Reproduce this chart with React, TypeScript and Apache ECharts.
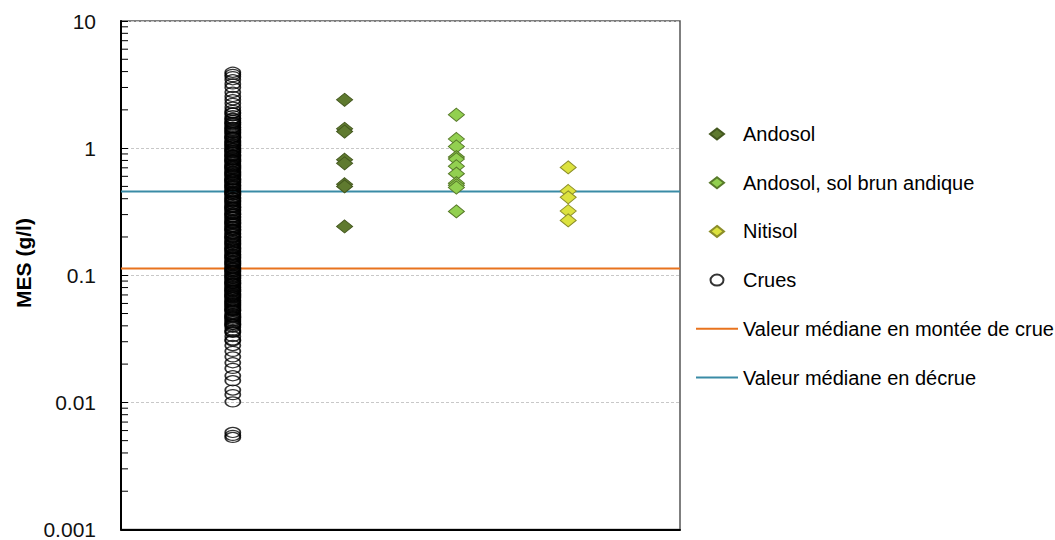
import React, { useEffect, useRef } from "react";
import * as echarts from "echarts";

const FONT = "'Liberation Sans', Arial, sans-serif";

// Category positions on the hidden x axis
const crueX = 1;
const andosolX = 2;
const solBrunX = 3;
const nitisolX = 4;

// MES values (g/l)
const andosol = [2.4, 1.42, 1.35, 0.81, 0.76, 0.52, 0.5, 0.242];
const solBrunAndique = [1.83, 1.18, 1.03, 0.85, 0.82, 0.72, 0.63, 0.53, 0.51, 0.49, 0.318];
const nitisol = [0.705, 0.46, 0.41, 0.32, 0.27];
const crues = [
  3.95, 3.8, 3.65, 3.45, 3.2, 3.0, 2.75, 2.55, 2.4, 2.25, 2.1, 1.98, 1.88, 1.8, 1.72,
  1.65, 1.58, 1.52, 1.46, 1.41, 1.36, 1.31, 1.27, 1.23, 1.19, 1.15, 1.11, 1.07, 1.04,
  1.01, 0.98, 0.95, 0.92, 0.89, 0.86, 0.84, 0.81, 0.79, 0.76, 0.74, 0.72, 0.7, 0.68,
  0.66, 0.64, 0.62, 0.6, 0.58, 0.565, 0.55, 0.535, 0.52, 0.505, 0.49, 0.475, 0.46,
  0.45, 0.44, 0.425, 0.41, 0.4, 0.39, 0.375, 0.36, 0.35, 0.34, 0.33, 0.32, 0.31, 0.3,
  0.29, 0.282, 0.274, 0.266, 0.258, 0.25, 0.243, 0.236, 0.229, 0.222, 0.215, 0.208,
  0.202, 0.196, 0.19, 0.184, 0.178, 0.172, 0.167, 0.162, 0.157, 0.152, 0.147, 0.143,
  0.139, 0.135, 0.131, 0.127, 0.123, 0.119, 0.115, 0.112, 0.109, 0.106, 0.103, 0.1,
  0.097, 0.094, 0.091, 0.088, 0.086, 0.083, 0.081, 0.078, 0.076, 0.074, 0.072, 0.07,
  0.068, 0.066, 0.064, 0.062, 0.06, 0.058, 0.057, 0.055, 0.053, 0.052, 0.05, 0.048,
  0.047, 0.045, 0.044, 0.042, 0.041, 0.039, 0.037, 0.0355, 0.033, 0.0305, 0.028,
  0.0252, 0.0228, 0.0205, 0.0185, 0.0162, 0.0148, 0.0125, 0.0115, 0.0101,
  0.0058, 0.0055, 0.0053,
  1.9, 1.7, 1.55, 1.45, 1.33, 1.22, 1.13, 1.05, 0.99, 0.93, 0.87, 0.82, 0.78, 0.73,
  0.69, 0.65, 0.61, 0.57, 0.54, 0.51, 0.48, 0.455, 0.43, 0.405, 0.385, 0.365, 0.345,
  0.325, 0.305, 0.287, 0.27, 0.255, 0.24, 0.226, 0.212, 0.199, 0.187, 0.175, 0.164,
  0.154, 0.145, 0.137, 0.129, 0.121, 0.114, 0.107, 0.101, 0.095, 0.09, 0.085, 0.08,
  0.075, 0.071, 0.067, 0.063, 0.059, 0.056, 0.053, 0.049, 0.046, 0.043, 0.04,
  1.6, 1.39, 1.21, 1.09, 0.96, 0.88, 0.8, 0.71, 0.63, 0.56, 0.5, 0.44, 0.38, 0.34,
  0.3, 0.26, 0.23, 0.2, 0.18, 0.16, 0.14, 0.125, 0.11, 0.098, 0.087, 0.077, 0.069,
  0.061, 0.054, 0.047, 0.041, 0.036, 0.031,
];

// Median lines
const medianMontee = 0.113;
const medianDecrue = 0.455;

// Axis
const yMin = 0.001;
const yMax = 10;
const xMin = 0;
const xMax = 5;
const decades = [0.001, 0.01, 0.1, 1];
const minorMultipliers = [2, 3, 4, 5, 6, 7, 8, 9];

const colors = {
  andosol: "#5F7A2F",
  andosolBorder: "#44581F",
  solBrun: "#92D050",
  solBrunBorder: "#587A2A",
  nitisol: "#DCE23E",
  nitisolBorder: "#8C8E2A",
  montee: "#E8731E",
  decrue: "#3A8BA6",
};

// Legend icons: 42x12 box, marker centred at x=21
const ICON_DIAMOND = "path://M0,6L0,6M42,6L42,6M21,0.5L28,6L21,11.5L14,6Z";
const ICON_CIRCLE =
  "path://M0,6L0,6M42,6L42,6M14.5,6A6.5,5.5,0,1,0,27.5,6A6.5,5.5,0,1,0,14.5,6Z";

export default function App() {
  const ref = useRef<HTMLDivElement>(null);

  useEffect(() => {
    if (!ref.current) return;
    const chart = echarts.init(ref.current, undefined, { renderer: "svg" });

    const minorTicks: number[][] = [];
    decades.forEach((d) => minorMultipliers.forEach((m) => minorTicks.push([xMin, d * m])));

    const diamond = (name: string, x: number, vals: number[], fill: string, border: string) => ({
      name,
      type: "scatter",
      z: 3,
      symbol: "diamond",
      symbolSize: [16, 13],
      itemStyle: { color: fill, borderColor: border, borderWidth: 1, opacity: 1 },
      data: vals.map((v) => [x, v]),
    });

    chart.setOption({
      animation: false,
      textStyle: { fontFamily: FONT },
      grid: {
        left: 121,
        top: 21,
        right: 375,
        bottom: 9,
        show: true,
        borderColor: "#555",
        borderWidth: 1.5,
        backgroundColor: "transparent",
      },
      xAxis: {
        type: "value",
        min: xMin,
        max: xMax,
        axisLine: { show: true, onZero: false, lineStyle: { color: "#000", width: 2 } },
        axisTick: { show: false },
        axisLabel: { show: false },
        splitLine: { show: false },
      },
      yAxis: {
        type: "log",
        logBase: 10,
        min: yMin,
        max: yMax,
        axisLine: { show: true, lineStyle: { color: "#000", width: 2 } },
        axisTick: { show: true, inside: true, length: 7, lineStyle: { color: "#000", width: 1 } },
        axisLabel: {
          fontSize: 21,
          color: "#111",
          margin: 25,
          fontFamily: FONT,
        },
        splitLine: {
          show: true,
          lineStyle: { color: "#C8C8C8", width: 1, type: [3, 2] },
        },
      },
      legend: {
        orient: "vertical",
        left: 690,
        top: 119,
        padding: 5,
        itemWidth: 42,
        itemHeight: 12,
        itemGap: 28.7,
        selectedMode: false,
        textStyle: { fontSize: 20, color: "#000", fontFamily: FONT, lineHeight: 20 },
        data: [
          { name: "Andosol", icon: ICON_DIAMOND },
          { name: "Andosol, sol brun andique", icon: ICON_DIAMOND },
          { name: "Nitisol", icon: ICON_DIAMOND },
          { name: "Crues", icon: ICON_CIRCLE },
          { name: "Valeur médiane en montée de crue", itemStyle: { opacity: 0 } },
          { name: "Valeur médiane en décrue", itemStyle: { opacity: 0 } },
        ],
      },
      graphic: [
        {
          type: "text",
          x: 23,
          y: 263,
          rotation: Math.PI / 2,
          style: {
            text: "MES (g/l)",
            fontSize: 21,
            fontWeight: "bold",
            fontFamily: FONT,
            fill: "#000",
            align: "center",
            verticalAlign: "middle",
          },
        },
      ],
      series: [
        {
          name: "minorTicks",
          type: "custom",
          z: 5,
          silent: true,
          data: minorTicks,
          encode: { x: 0, y: 1 },
          renderItem: (params: any, api: any) => {
            const p = api.coord([xMin, api.value(1)]);
            return {
              type: "line",
              shape: { x1: p[0], y1: p[1], x2: p[0] + 7, y2: p[1] },
              style: { stroke: "#000", lineWidth: 1 },
            };
          },
        },
        {
          name: "Valeur médiane en montée de crue",
          type: "line",
          z: 1,
          symbol: "none",
          lineStyle: { color: colors.montee, width: 2 },
          itemStyle: { color: colors.montee },
          data: [
            [xMin, medianMontee],
            [xMax, medianMontee],
          ],
        },
        {
          name: "Valeur médiane en décrue",
          type: "line",
          z: 1,
          symbol: "none",
          lineStyle: { color: colors.decrue, width: 2 },
          itemStyle: { color: colors.decrue },
          data: [
            [xMin, medianDecrue],
            [xMax, medianDecrue],
          ],
        },
        {
          name: "Crues",
          type: "scatter",
          z: 2,
          symbol: "circle",
          symbolSize: [15, 10],
          itemStyle: { color: "rgba(255,255,255,0)", borderColor: "#000", borderWidth: 1.5 },
          data: crues.map((v) => [crueX, v]),
        },
        diamond("Andosol", andosolX, andosol, colors.andosol, colors.andosolBorder),
        diamond("Andosol, sol brun andique", solBrunX, solBrunAndique, colors.solBrun, colors.solBrunBorder),
        diamond("Nitisol", nitisolX, nitisol, colors.nitisol, colors.nitisolBorder),
      ],
    });

    return () => chart.dispose();
  }, []);

  return (
    <div
      ref={ref}
      style={{ position: "absolute", left: 0, top: 0, width: 1055, height: 540, background: "#fff" }}
    />
  );
}
